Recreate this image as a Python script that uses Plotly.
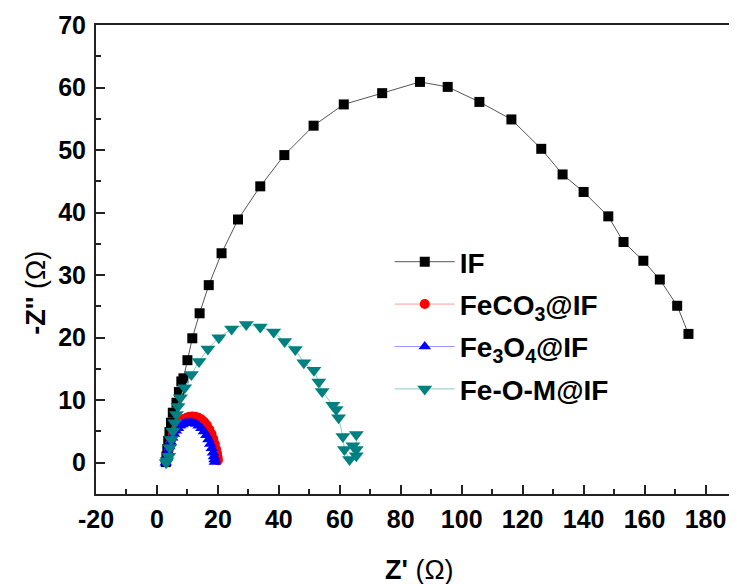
import plotly.graph_objects as go

# IF
if_x = [2.9, 3.1, 3.4, 3.7, 4.1, 4.6, 5.2, 6.4, 7.2, 8.0, 8.7, 10.0, 11.6, 14.0, 17.0, 21.2, 26.6, 33.9,
        41.8, 51.4, 61.3, 73.9, 86.3, 95.4, 105.8, 116.3, 126.1, 133.1, 140.0, 148.1, 153.1,
        159.6, 165.0, 170.7, 174.4]
if_y = [0.1, 1.0, 2.2, 3.5, 4.9, 6.4, 8.0, 9.6, 11.3, 13.0, 13.5, 16.4, 19.9, 23.9, 28.4, 33.5, 38.9, 44.2,
        49.2, 53.9, 57.3, 59.1, 60.9, 60.1, 57.7, 54.9, 50.2, 46.1, 43.3, 39.4, 35.3,
        32.3, 29.3, 25.1, 20.6]

# FeCO3@IF
fc_x = [3.2, 3.5, 3.9, 4.3, 4.8, 5.3, 5.9, 6.5, 7.2, 8.0, 8.8, 9.7, 10.6, 11.6, 12.6, 13.6,
        14.6, 15.5, 16.4, 17.2, 17.9, 18.5, 19.0, 19.4, 19.7, 19.9, 20.0]
fc_y = [0.3, 1.2, 2.1, 3.0, 3.8, 4.5, 5.2, 5.8, 6.3, 6.7, 7.0, 7.2, 7.35, 7.4, 7.35, 7.2,
        6.9, 6.5, 6.0, 5.3, 4.6, 3.8, 3.0, 2.2, 1.5, 0.9, 0.4]

# Fe3O4@IF
fo_x = [2.9, 3.2, 3.6, 4.0, 4.5, 5.0, 5.6, 6.2, 6.9, 7.6, 8.4, 9.2, 10.1, 11.0, 11.9, 12.8,
        13.7, 14.6, 15.4, 16.2, 16.9, 17.5, 18.0, 18.4, 18.7, 18.9, 19.0]
fo_y = [0.0, 0.9, 1.8, 2.6, 3.3, 4.0, 4.6, 5.1, 5.5, 5.9, 6.1, 6.3, 6.4, 6.4, 6.35, 6.2,
        5.9, 5.5, 5.0, 4.4, 3.7, 3.0, 2.3, 1.6, 1.0, 0.5, 0.1]

# Fe-O-M@IF
fm_x = [3.0, 3.3, 3.9, 4.2, 4.7, 5.2, 5.8, 6.4, 6.9, 7.7, 9.1, 11.3, 13.8, 16.7, 20.3, 24.5,
        29.3, 33.9, 38.3, 41.9, 45.4, 48.2, 51.5, 53.1, 54.2, 57.7, 58.8, 59.6, 61.0,
        61.5, 63.2, 65.4, 64.3, 65.4, 65.4]
fm_y = [0.0, 0.3, 1.05, 2.4, 3.7, 5.05, 6.4, 7.7, 9.0, 10.4, 12.0, 14.1, 16.2, 18.2, 20.0, 21.4,
        22.1, 21.7, 20.9, 19.4, 18.1, 16.0, 14.8, 12.9, 11.4, 9.2, 8.5, 7.2, 4.2,
        2.1, 0.5, 1.1, 2.7, 2.1, 4.5]

x_ticks = [-20, 0, 20, 40, 60, 80, 100, 120, 140, 160, 180]
x_ticklabels = ["-20", "0", "20", "40", "60", "80", "100", "120", "140", "160", "180"]
y_ticks = [0, 10, 20, 30, 40, 50, 60, 70]
y_ticklabels = ["0", "10", "20", "30", "40", "50", "60", "70"]

FONT = "Liberation Sans, Arial, sans-serif"

fig = go.Figure()
fig.add_trace(go.Scatter(x=if_x, y=if_y, name="<b>IF</b>", mode="lines+markers",
                         line=dict(color="#555555", width=1),
                         marker=dict(symbol="square", size=10, color="black"), legendgroup="a"))
fig.add_trace(go.Scatter(x=fc_x, y=fc_y, name="<b>FeCO<sub>3</sub>@IF</b>", mode="lines+markers",
                         line=dict(color="#ff9999", width=1),
                         marker=dict(symbol="circle", size=10, color="#ff0000"), legendgroup="b"))
fig.add_trace(go.Scatter(x=fo_x, y=fo_y, name="<b>Fe<sub>3</sub>O<sub>4</sub>@IF</b>", mode="lines+markers",
                         line=dict(color="#9999ff", width=1),
                         marker=dict(symbol="triangle-up", size=11, color="#0000ff"), legendgroup="c"))
fig.add_trace(go.Scatter(x=fm_x, y=fm_y, name="<b>Fe-O-M@IF</b>", mode="lines+markers",
                         line=dict(color="#88c8c8", width=1),
                         marker=dict(symbol="triangle-down", size=13, color="#008080"), legendgroup="d"))

axis_common = dict(showline=True, mirror=True, linecolor="#222222", linewidth=2,
                   ticks="inside", ticklen=9, tickwidth=1.5, tickcolor="#222222",
                   showgrid=False, zeroline=False, automargin=False,
                   tickfont=dict(family=FONT, size=25, color="black"),
                   minor=dict(ticks="inside", ticklen=5, tickwidth=1.5, tickcolor="#222222", showgrid=False))

fig.update_xaxes(range=[-20, 190], tickvals=x_ticks, ticktext=["<b>%s</b>" % t for t in x_ticklabels],
                 ticklabelstandoff=2, minor_dtick=10, minor_tick0=0, **axis_common)
fig.update_yaxes(range=[-5, 70], tickvals=y_ticks, ticktext=["<b>%s</b>" % t for t in y_ticklabels],
                 ticklabelstandoff=3, minor_dtick=5, minor_tick0=0, **axis_common)

fig.add_annotation(text="<b>Z'</b> (Ω)", xref="paper", yref="paper", x=0.506, y=-0.162,
                   xanchor="center", yanchor="middle", showarrow=False,
                   font=dict(family=FONT, size=27, color="black"))
fig.add_annotation(text="<b>-Z''</b> (Ω)", xref="paper", yref="paper", x=-0.093, y=0.43,
                   xanchor="center", yanchor="middle", showarrow=False, textangle=-90,
                   font=dict(family=FONT, size=27, color="black"))

# page body adds an 8px offset; plot area placed so that it lands at x 96-736, y 25-494 on screen
fig.update_layout(
    width=737, height=584,
    margin=dict(l=88, r=9, t=17, b=98),
    paper_bgcolor="white", plot_bgcolor="white",
    legend=dict(x=0.459, y=0.548, xanchor="left", yanchor="top",
                font=dict(family=FONT, size=28, color="black"),
                bgcolor="rgba(0,0,0,0)", itemwidth=60, tracegroupgap=3),
)

fig.write_html("out.html")
